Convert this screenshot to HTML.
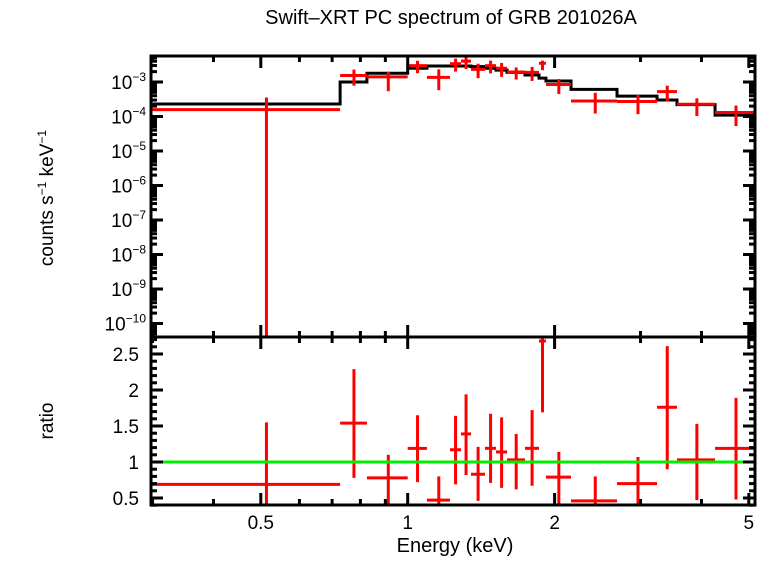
<!DOCTYPE html>
<html><head><meta charset="utf-8"><style>
body{margin:0;background:#fff;}
svg text{font-family:"Liberation Sans",sans-serif;fill:#000;}
</style></head><body>
<svg id="chart" width="768" height="556" xmlns="http://www.w3.org/2000/svg">
<text x="451" y="24" font-size="20" text-anchor="middle">Swift–XRT PC spectrum of GRB 201026A</text>
<text transform="translate(53,198) rotate(-90)" font-size="19" text-anchor="middle">counts s<tspan font-size="12" dy="-7">−1</tspan><tspan dy="7"> keV</tspan><tspan font-size="12" dy="-7">−1</tspan></text>
<text transform="translate(53,421) rotate(-90)" font-size="19" text-anchor="middle">ratio</text>
<text x="455" y="552" font-size="20" text-anchor="middle">Energy (keV)</text>
<g id="g"></g>
</svg>
<script>
const binEdges=[0.3,0.727,0.825,1.0,1.095,1.221,1.286,1.348,1.440,1.517,1.598,1.739,1.858,1.920,2.161,2.685,3.243,3.563,4.264,5.15];
const modelCounts=[2.3e-4,1.0e-3,1.8e-3,2.5e-3,2.9e-3,2.9e-3,2.9e-3,2.8e-3,2.5e-3,2.2e-3,1.9e-3,1.6e-3,1.3e-3,1.07e-3,6.1e-4,3.9e-4,3.0e-4,2.2e-4,1.1e-4];
const ratio=[0.69,1.54,0.78,1.19,0.47,1.17,1.39,0.83,1.19,1.14,1.03,1.19,2.68,0.79,0.46,0.70,1.76,1.03,1.19];
const ratioHi=[1.55,2.29,1.10,1.65,0.80,1.64,1.94,1.21,1.67,1.62,1.39,1.72,3.2,1.14,0.80,1.07,2.61,1.53,1.89];
const ratioLo=[0.0,0.78,0.30,0.72,0.2,0.69,0.82,0.46,0.71,0.64,0.62,0.67,1.69,0.42,0.2,0.3,0.90,0.47,0.48];
const xTicksMajor=[0.5,1,2,5];
const topTicks=[-10,-9,-8,-7,-6,-5,-4,-3];
const ratioTicks=[0.5,1,1.5,2,2.5];

const L=151,R=755,T=56,M=337,B=505;
const xs=e=>407.7+488*Math.log10(e);
const yt=v=>82-34.5*(Math.log10(v)+3);
const yr=v=>462-72*(v-1);
const g=document.getElementById('g');
const NS='http://www.w3.org/2000/svg';
function mk(tag,attrs,name){const el=document.createElementNS(NS,tag);for(const k in attrs)el.setAttribute(k,attrs[k]);


g.appendChild(el);return el;}
function line(x1,y1,x2,y2,c,w,name){return mk('line',{x1,y1,x2,y2,stroke:c,'stroke-width':w},name);}
const defs=document.createElementNS(NS,'defs');defs.innerHTML='<clipPath id="ct"><rect x="151" y="56" width="604" height="281"/></clipPath><clipPath id="cb"><rect x="151" y="337" width="604" height="168"/></clipPath>';g.appendChild(defs);
const gt=mk('g',{'clip-path':'url(#ct)'},'counts-panel-plot');
const gb=mk('g',{'clip-path':'url(#cb)'},'ratio-panel-plot');
function cl(parent,x1,y1,x2,y2,c,w,name){const el=document.createElementNS(NS,'line');
[['x1',x1],['y1',y1],['x2',x2],['y2',y2],['stroke',c],['stroke-width',w]].forEach(a=>el.setAttribute(a[0],a[1]));


parent.appendChild(el);}
let d='';
modelCounts.forEach((m,i)=>{const x1=xs(binEdges[i]),x2=xs(binEdges[i+1]),y=yt(m);d+=(i?'L':'M')+x1+' '+y+'L'+x2+' '+y;});
const p=document.createElementNS(NS,'path');p.setAttribute('d',d);p.setAttribute('fill','none');p.setAttribute('stroke','#000');p.setAttribute('stroke-width','3');


gt.appendChild(p);
ratio.forEach((r,i)=>{
 const x1=xs(binEdges[i]),x2=xs(binEdges[i+1]),xc=xs((binEdges[i]+binEdges[i+1])/2);
 const m=modelCounts[i];
 cl(gt,x1,yt(m*r),x2,yt(m*r),'#f00',3,'data-bin-hbar');
 cl(gt,xc,yt(m*ratioHi[i]),xc,ratioLo[i]>0?yt(m*ratioLo[i]):400,'#f00',3,'data-bin-errbar');
 cl(gb,x1,yr(r),x2,yr(r),'#f00',3,'ratio-bin-hbar');
 cl(gb,xc,yr(ratioHi[i]),xc,yr(ratioLo[i]),'#f00',3,'ratio-bin-errbar');
});
cl(gb,L,yr(1),R,yr(1),'#0e0',3,'unity-line');
mk('rect',{x:L,y:T,width:R-L,height:B-T,fill:'none',stroke:'#000','stroke-width':3},'plot-frame');
line(L,M,R,M,'#000',3,'panel-divider');
const minor=[0.3,0.4,0.6,0.7,0.8,0.9,3,4];
[[T,1],[M,-1],[M,1],[B,-1]].forEach(([y,s])=>{
 xTicksMajor.forEach(v=>line(xs(v),y,xs(v),y+s*12,'#000',3,'x-major-tick'));
 minor.forEach(v=>line(xs(v),y,xs(v),y+s*6,'#000',3,'x-minor-tick'));
});
xTicksMajor.forEach(v=>{const t=mk('text',{x:xs(v),y:529,'font-size':19,'text-anchor':'middle'},'x-tick-label');t.textContent=v;});
[L,R].forEach((x,k)=>{const s=k?-1:1;
 for(let e=-11;e<=-2;e++){for(let j=1;j<10;j++){const v=j*Math.pow(10,e),y=yt(v);if(y<T||y>M)continue;line(x,y,x+s*(j==1?12:6),y,'#000',3,'top-y-tick');}}
 for(let v=0.4;v<=2.75;v+=0.1){const y=yr(v);const maj=Math.abs(v*2-Math.round(v*2))<1e-6;line(x,y,x+s*(maj?12:6),y,'#000',3,'ratio-y-tick');}
});
topTicks.forEach(e=>{const t=mk('text',{x:146,y:yt(Math.pow(10,e))+7,'font-size':19,'text-anchor':'end'},'top-y-tick-label');
 t.innerHTML='10<tspan font-size="12" dy="-8">−'+(-e)+'</tspan>';});
ratioTicks.forEach(v=>{const t=mk('text',{x:139,y:yr(v)+7,'font-size':19,'text-anchor':'end'},'ratio-y-tick-label');t.textContent=v;});
</script>
</body></html>
